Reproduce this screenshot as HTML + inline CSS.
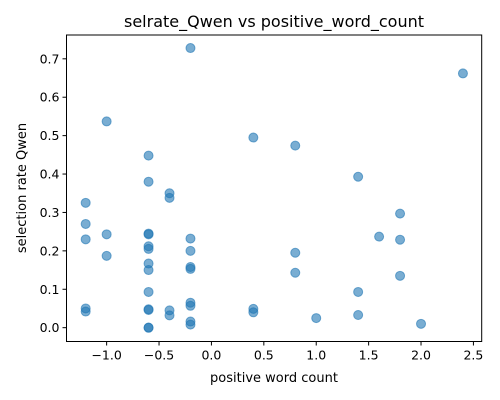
<!DOCTYPE html>
<html><head><meta charset="utf-8"><style>
body{margin:0;background:#fff}
svg{display:block;font-family:"DejaVu Sans","Liberation Sans",sans-serif}
</style></head><body>
<svg id="chart" width="500" height="400" viewBox="0 0 500 400">
<rect width="500" height="400" fill="#fff"/>
<text x="274" y="27" font-size="16" text-anchor="middle">selrate_Qwen vs positive_word_count</text>
<g id="xt"></g>
<g id="yt"></g>
<g id="pts"></g>
<rect x="66.5" y="35" width="415.2" height="306.5" fill="none" stroke="#000" stroke-width="1"/>
<text x="274" y="382" font-size="13" text-anchor="middle">positive word count</text>
<text transform="translate(26,188) rotate(-90)" font-size="13" text-anchor="middle">selection rate Qwen</text>
</svg>
<script>
const xs = [-1.2,-1.2,-1.2,-1.2,-1.2, -1.0,-1.0,-1.0,
 -0.6,-0.6,-0.6,-0.6,-0.6,-0.6,-0.6,-0.6,-0.6,-0.6,-0.6,-0.6,-0.6,
 -0.4,-0.4,-0.4,-0.4,
 -0.2,-0.2,-0.2,-0.2,-0.2,-0.2,-0.2,-0.2,-0.2,
 0.4,0.4,0.4, 0.8,0.8,0.8, 1.0, 1.4,1.4,1.4, 1.6, 1.8,1.8,1.8, 2.0, 2.4];
const ys = [0.325,0.27,0.23,0.05,0.042, 0.537,0.243,0.187,
 0.448,0.38,0.245,0.243,0.212,0.205,0.167,0.15,0.093,0.048,0.046,0.0,0.0,
 0.35,0.338,0.045,0.032,
 0.728,0.232,0.2,0.158,0.153,0.065,0.057,0.016,0.008,
 0.495,0.049,0.04, 0.474,0.195,0.143, 0.025, 0.393,0.093,0.033, 0.237, 0.297,0.229,0.135, 0.01, 0.662];
const xTicks = [-1.0,-0.5,0.0,0.5,1.0,1.5,2.0,2.5];
const xTickLabels = ["−1.0","−0.5","0.0","0.5","1.0","1.5","2.0","2.5"];
const yTicks = [0.0,0.1,0.2,0.3,0.4,0.5,0.6,0.7];
const yTickLabels = ["0.0","0.1","0.2","0.3","0.4","0.5","0.6","0.7"];

const NS="http://www.w3.org/2000/svg";
const X0=66.5,X1=481.7,Y0=341.5,Y1=35, xmin=-1.383,xmax=2.579,ymin=-0.036,ymax=0.762;
function sx(v){return X0+(v-xmin)/(xmax-xmin)*(X1-X0);}
function sy(v){return Y0-(v-ymin)/(ymax-ymin)*(Y0-Y1);}
function mk(t,a,p){const e=document.createElementNS(NS,t);for(const k in a)e.setAttribute(k,a[k]);p.appendChild(e);return e;}
const xt=document.getElementById('xt'),yt=document.getElementById('yt'),pts=document.getElementById('pts');
xTicks.forEach((v,i)=>{
 const l=mk('line',{x1:sx(v),x2:sx(v),y1:Y0,y2:Y0+4,stroke:'#000'},xt);
 
 
 const t=mk('text',{x:sx(v),y:Y0+18,'font-size':12.5,'text-anchor':'middle'},xt);
 t.textContent=xTickLabels[i];
 
 
});
yTicks.forEach((v,i)=>{
 const l=mk('line',{x1:X0-4,x2:X0,y1:sy(v),y2:sy(v),stroke:'#000'},yt);
 
 
 const t=mk('text',{x:X0-7,y:sy(v)+4.5,'font-size':12.5,'text-anchor':'end'},yt);
 t.textContent=yTickLabels[i];
 
 
});
xs.forEach((v,i)=>{
 const c=mk('circle',{cx:sx(v),cy:sy(ys[i]),r:4.5,fill:'#1f77b4','fill-opacity':0.6,stroke:'#1f77b4','stroke-opacity':0.6,'stroke-width':1},pts);
 
 
});
</script>
</body></html>
